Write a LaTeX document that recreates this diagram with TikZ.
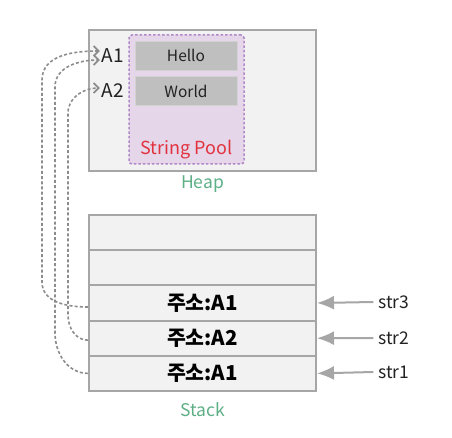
\documentclass[tikz,border=0pt]{standalone}
\usepackage{fontspec}
\setmainfont{Noto Sans CJK KR}
\usetikzlibrary{arrows.meta,positioning}
\definecolor{frame}{HTML}{A6A6A6}
\definecolor{cell}{HTML}{F2F2F2}
\definecolor{lilac}{HTML}{E5D6E9}
\definecolor{plum}{HTML}{B088C8}
\definecolor{block}{HTML}{BFBFBF}
\definecolor{rose}{HTML}{E2323E}
\definecolor{mint}{HTML}{5DAF86}
\definecolor{ink}{HTML}{222222}
\definecolor{link}{HTML}{8C8C8C}

\begin{document}
\begin{tikzpicture}[
  x=1pt,y=1pt,
  area/.style={draw=frame,line width=2pt,fill=cell,minimum width=227pt,minimum height=141pt},
  pool/.style={draw=plum,line width=1.5pt,dash pattern=on 2.5pt off 2pt,fill=lilac,rounded corners=3pt,minimum width=115pt,minimum height=129pt},
  str/.style={draw=block!70!white,fill=block,minimum width=102pt,minimum height=29pt,font=\fontsize{15.5}{18}\selectfont,text=ink},
  row/.style={draw=frame,line width=2pt,fill=cell,minimum width=227pt,minimum height=35.2pt,font=\bfseries\fontsize{20.5}{24}\selectfont,text=black},
  tag/.style={font=\fontsize{17.5}{20}\selectfont,text=mint},
  addr/.style={font=\fontsize{19}{22}\selectfont,text=ink},
  var/.style={font=\fontsize{17.5}{20}\selectfont,text=ink,inner xsep=5pt},
  ptr/.style={-{Latex[length=17pt,width=14pt]},draw=frame,line width=2pt},
  ref/.style={-{Straight Barb[length=5pt,width=10pt]},draw=link,line width=1.6pt,dash pattern=on 3pt off 2.2pt},
]
\useasboundingbox (0,0) rectangle (452,437);
% heap
\node[area] (heap) at (202.5,336.5) {};
\node[pool] (sp) at (186.5,337.5) {};
\node[str] (hello) at (186,381.5) {Hello};
\node[str] (world) at (186,346) {World};
\node[font=\fontsize{18}{20}\selectfont,text=rose] (spl) at (186.5,287) {String Pool};
\node[addr,inner xsep=2pt] (a1) at (113,381) {A1};
\node[addr,inner xsep=2pt] (a2) at (113,346) {A2};
\node[tag] (hl) at (202.5,253) {Heap};
% stack
\node[row] (r5) at (202.5,204.4) {};
\node[row] (r4) at (202.5,169.2) {};
\node[row] (r3) at (202.5,134) {주소:A1};
\node[row] (r2) at (202.5,98.8) {주소:A2};
\node[row] (r1) at (202.5,63.6) {주소:A1};
\node[tag] (sl) at (202.5,27) {Stack};
\node[var] (v3) at (394,135) {str3};
\node[var] (v2) at (394,99) {str2};
\node[var] (v1) at (394,65) {str1};
\draw[ptr] (v3.west) -- (r3.east);
\draw[ptr] (v2.west) -- (r2.east);
\draw[ptr] (v1.west) -- (r1.east);
% references
\draw[ref] ([yshift=-4pt]r3.west) to[out=180,in=-90] (42,155) -- (42,357) to[out=90,in=180] ([yshift=5pt]a1.west);
\draw[ref] (r1.west) to[out=180,in=-90] (55,104) -- (55,350) to[out=90,in=180] ([yshift=-4pt]a1.west);
\draw[ref] ([yshift=-2pt]r2.west) to[out=180,in=-90] (68,122) -- (68,324) to[out=90,in=180] ([yshift=3pt]a2.west);
\end{tikzpicture}
\end{document}
